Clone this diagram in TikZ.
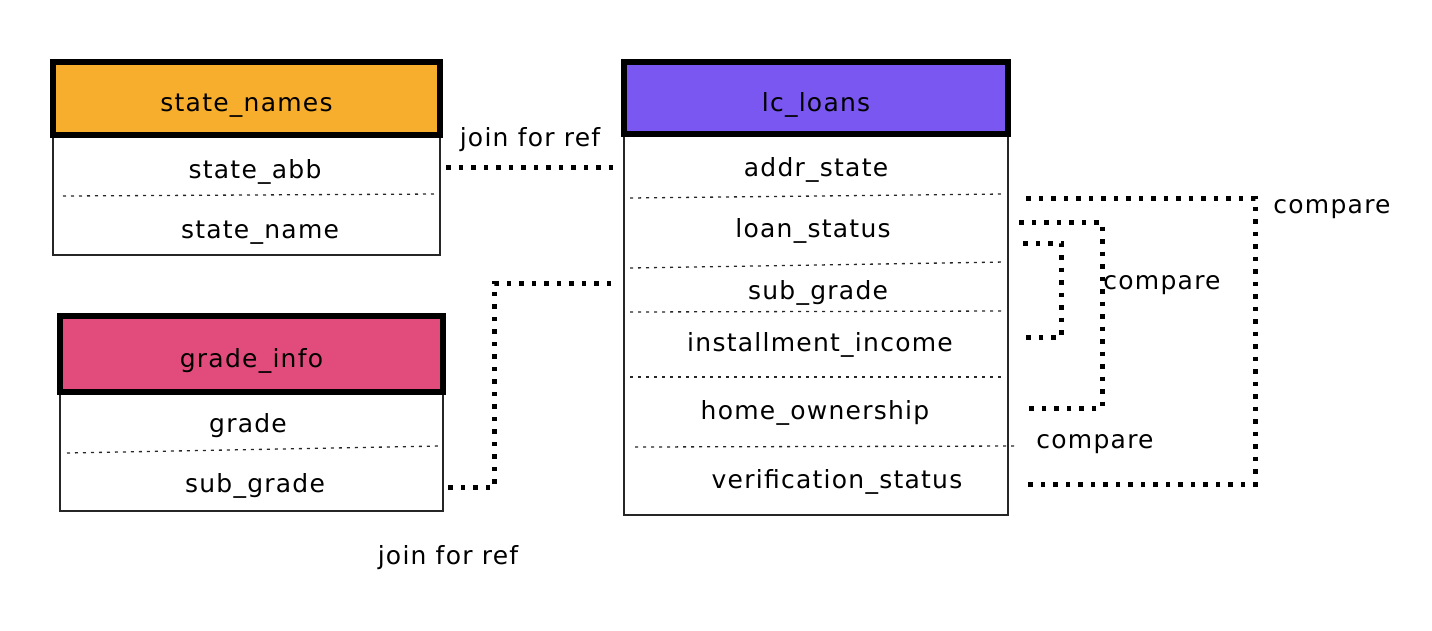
\documentclass[tikz,border=0pt]{standalone}
\usepackage{fontspec}
\setmainfont{DejaVu Sans}[LetterSpace=5]
\usetikzlibrary{calc}
\definecolor{hdrorange}{RGB}{247,174,44}
\definecolor{hdrpurple}{RGB}{121,87,240}
\definecolor{hdrpink}{RGB}{226,76,125}
\newcommand\dgfont{\fontsize{25}{30}\selectfont}
\tikzset{
  hdr/.style={draw=black, line width=6.5pt, inner sep=0pt, font=\dgfont, text height=26pt, text depth=0pt},
  bodybox/.style={draw=black!85, line width=1.8pt},
  rowtext/.style={inner sep=0pt, font=\dgfont, text height=22pt, text depth=0pt},
  sepline/.style={draw=black!85, line width=1.3pt, dash pattern=on 3pt off 5pt},
  conn/.style={draw=black, line width=5pt, dash pattern=on 4.5pt off 8pt},
  lbl/.style={inner sep=0pt, font=\dgfont, text height=22pt, text depth=0pt}
}
\begin{document}
\begin{tikzpicture}[x=1pt,y=-1pt]
\useasboundingbox (0,0) rectangle (1432,630);

% ---- state_names table
\draw[bodybox] (53,135) rectangle (440,255);
\node[hdr, fill=hdrorange, minimum width=387pt, minimum height=73pt] (sn) at (246.5,98.5) {state\_names};
\draw[sepline] (63,196) -- (437,194);
\node[rowtext] (abb) at (255,167) {state\_abb};
\node[rowtext] (sname) at (260,227) {state\_name};

% ---- grade_info table
\draw[bodybox] (60,392) rectangle (443,511);
\node[hdr, fill=hdrpink, minimum width=383pt, minimum height=76pt] (gi) at (251.5,354) {grade\_info};
\draw[sepline] (67,453) -- (440,446);
\node[rowtext] (grade) at (248,421) {grade};
\node[rowtext] (gsub) at (255,481) {sub\_grade};

% ---- lc_loans table
\draw[bodybox] (624,134) rectangle (1008,515);
\node[hdr, fill=hdrpurple, minimum width=384pt, minimum height=72pt] (lc) at (816,98) {lc\_loans};
\draw[sepline] (630,198) -- (1005,194);
\draw[sepline] (630,268) -- (1005,262);
\draw[sepline] (630,312) -- (1005,311);
\draw[sepline] (630,377) -- (1005,377);
\draw[sepline] (635,447) -- (1018,446);
\node[rowtext] (addr) at (816,165) {addr\_state};
\node[rowtext] (loan) at (813,226) {loan\_status};
\node[rowtext] (lsub) at (818,288) {sub\_grade};
\node[rowtext] (inst) at (820,340) {installment\_income};
\node[rowtext] (home) at (815,408) {home\_ownership};
\node[rowtext] (verif) at (837,477) {verification\_status};

% ---- join connectors
\draw[conn] ($(sn.east |- abb)+(3,0)$) -- ($(lc.west |- abb)+(-2,0)$);
\draw[conn] ($(gi.east |- gsub)+(2,6)$) -| ($(lc.west |- lsub)+(-126,-5)$) -- ($(lc.west |- lsub)+(-2,-5)$);

% ---- compare connectors
\draw[conn] ($(lc.east |- addr)+(15,33)$) -| ($(lc.east |- verif)+(244,7)$) -- ($(lc.east |- verif)+(17,7)$);
\draw[conn] ($(lc.east |- loan)+(8,-4)$) -| ($(lc.east |- home)+(91,0)$) -- ($(lc.east |- home)+(17,0)$);
\draw[conn] ($(lc.east |- loan)+(12,17)$) -| ($(lc.east |- inst)+(50,-3)$) -- ($(lc.east |- inst)+(8,-3)$);

% ---- labels
\node[lbl] (j1) at (530,135) {join for ref};
\node[lbl] (j2) at (448,553) {join for ref};
\node[lbl] (c1) at (1332,202) {compare};
\node[lbl] (c2) at (1162,278) {compare};
\node[lbl] (c3) at (1095,437) {compare};
\end{tikzpicture}
\end{document}
